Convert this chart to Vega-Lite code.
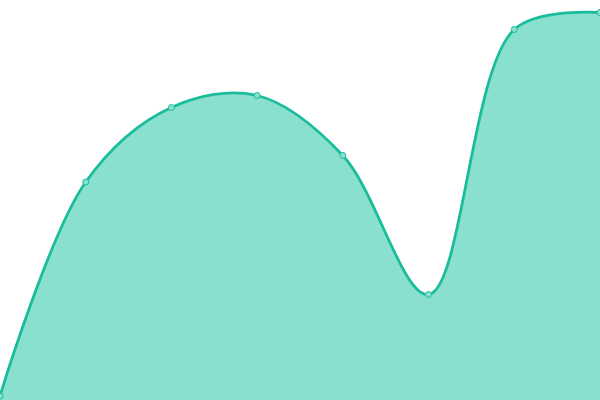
{
  "$schema": "https://vega.github.io/schema/vega-lite/v6.json",
  "width": 600,
  "height": 400,
  "autosize": "none",
  "padding": 0,
  "background": "#ffffff",
  "data": {
    "values": [
      {"i": 0, "v": 4},
      {"i": 1, "v": 218},
      {"i": 2, "v": 292.5},
      {"i": 3, "v": 304.5},
      {"i": 4, "v": 244.5},
      {"i": 5, "v": 105.5},
      {"i": 6, "v": 370.5},
      {"i": 7, "v": 387.5}
    ]
  },
  "encoding": {
    "x": {
      "field": "i",
      "type": "quantitative",
      "scale": {"domain": [0, 7], "nice": false, "zero": false},
      "axis": null
    },
    "y": {
      "field": "v",
      "type": "quantitative",
      "scale": {"domain": [0, 400], "nice": false},
      "axis": null
    }
  },
  "layer": [
    {
      "mark": {"type": "area", "interpolate": "catmull-rom", "color": "#8ae0cf", "opacity": 1}
    },
    {
      "mark": {"type": "line", "interpolate": "catmull-rom", "color": "#1abc9c", "strokeWidth": 2.8}
    },
    {
      "mark": {"type": "point", "filled": true, "fill": "#8ae0cf", "stroke": "#1abc9c", "strokeWidth": 1, "size": 36, "opacity": 1}
    }
  ],
  "config": {
    "view": {"stroke": null}
  }
}
